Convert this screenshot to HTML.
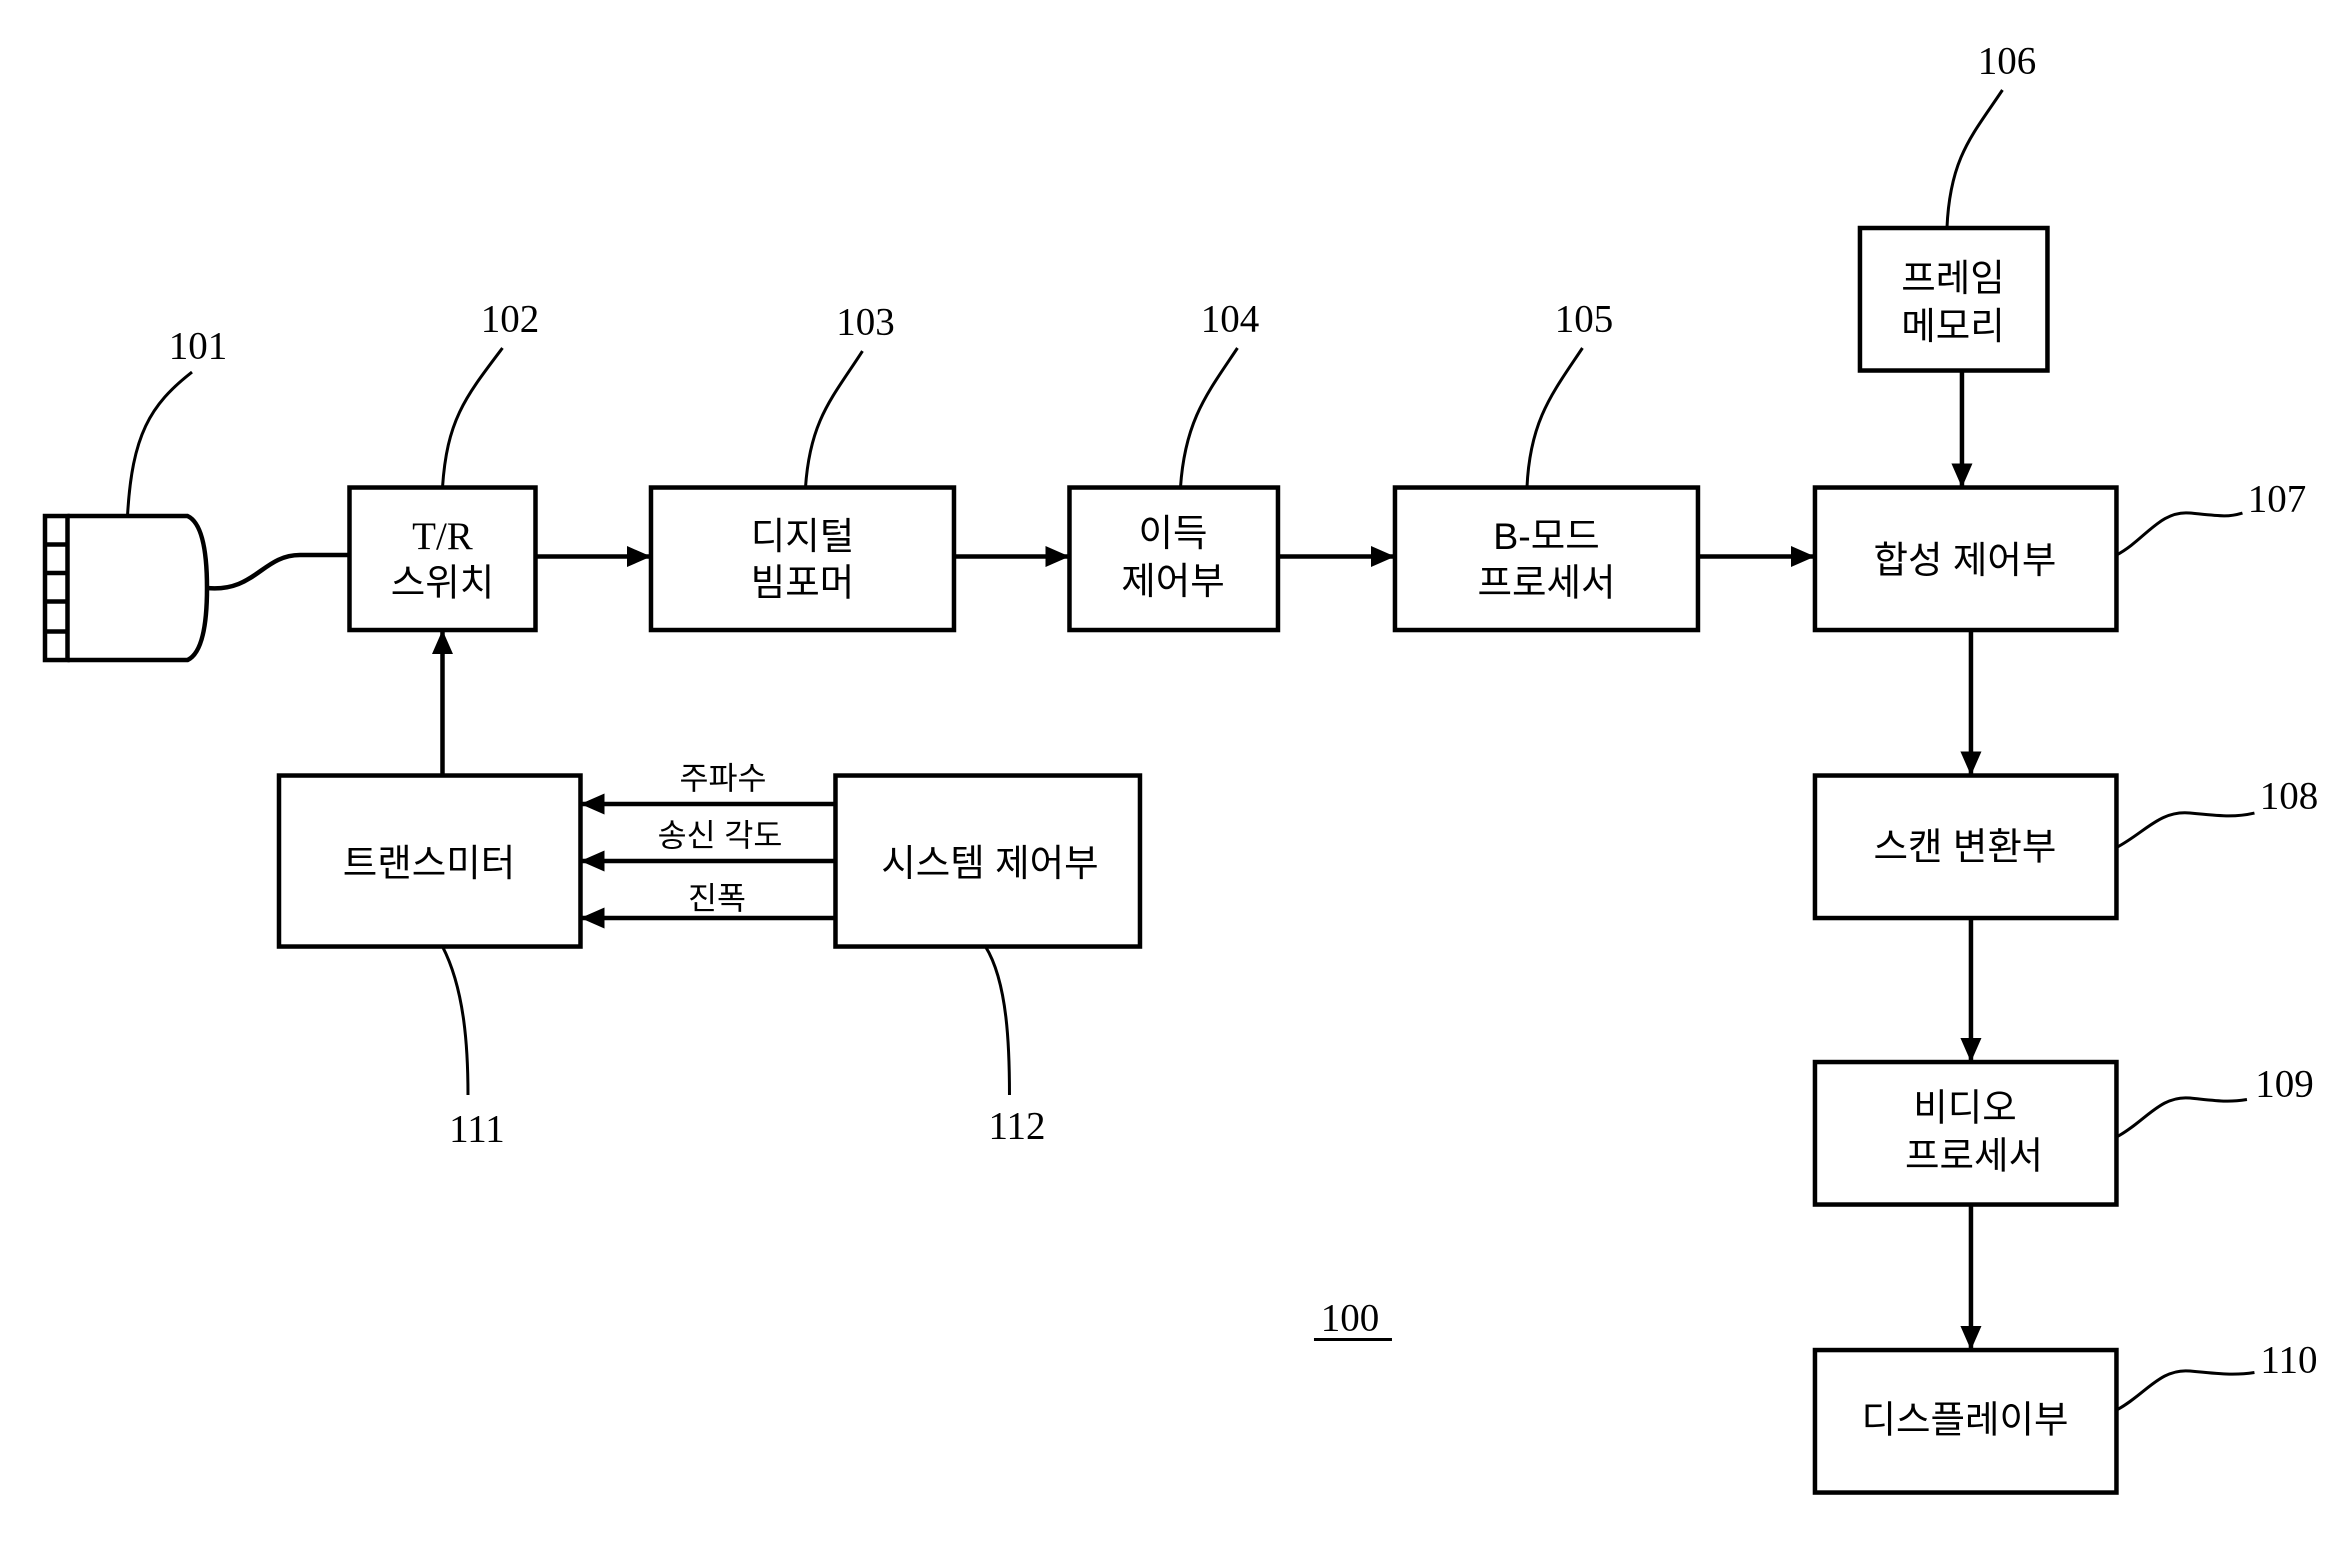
<!DOCTYPE html>
<html><head><meta charset="utf-8"><style>html,body{margin:0;padding:0;background:#fff}svg{display:block}</style></head>
<body>
<svg width="2344" height="1544" viewBox="0 0 1562.7 1029.3" preserveAspectRatio="none" xmlns="http://www.w3.org/2000/svg">
<defs><marker id="a" markerWidth="16" markerHeight="14" refX="15" refY="7" orient="auto" markerUnits="userSpaceOnUse" viewBox="0 0 16 14"><path d="M0,0 L16,7 L0,14 z" fill="#000"/></marker></defs>
<g fill="none" stroke="#000" stroke-width="3">
<rect x="30" y="344" width="15" height="96"/>
<path d="M30,363H45M30,382H45M30,401H45M30,421H45"/>
<path d="M45,344H125Q138,350 138,392Q138,434 125,440H45"/>
<path d="M138,392C170,395 175,370 200,370H233"/>
<rect x="233" y="325" width="124" height="95"/>
<rect x="434" y="325" width="202" height="95"/>
<rect x="713" y="325" width="139" height="95"/>
<rect x="930" y="325" width="202" height="95"/>
<rect x="1210" y="325" width="201" height="95"/>
<rect x="1240" y="152" width="125" height="95"/>
<rect x="1210" y="517" width="201" height="95"/>
<rect x="1210" y="708" width="201" height="95"/>
<rect x="1210" y="900" width="201" height="95"/>
<rect x="186" y="517" width="201" height="114"/>
<rect x="557" y="517" width="203" height="114"/>
</g>
<g stroke="#000" stroke-width="3" fill="none" marker-end="url(#a)">
<path d="M357,371H433"/><path d="M636,371H712"/><path d="M852,371H929"/><path d="M1132,371H1209"/>
<path d="M1308,247V324"/><path d="M1314,420V516"/><path d="M1314,612V707"/><path d="M1314,803V899"/>
<path d="M295,517V421"/>
<path d="M557,536H388"/><path d="M557,574H388"/><path d="M557,612H388"/>
</g>
<g stroke="#000" stroke-width="2" fill="none">
<path d="M85,344C88,290 100,270 128,248"/>
<path d="M295,325C298,280 310,265 335,232"/>
<path d="M537,325C540,280 555,265 575,234"/>
<path d="M787,325C790,280 805,262 825,232"/>
<path d="M1018,325C1020,280 1035,262 1055,232"/>
<path d="M1298,152C1300,105 1315,90 1335,60"/>
<path d="M1411,370C1430,360 1440,340 1460,342S1485,345 1495,342"/>
<path d="M1411,565C1430,555 1440,540 1460,542S1490,545 1503,542"/>
<path d="M1411,758C1430,748 1440,730 1460,732S1485,735 1498,733"/>
<path d="M1411,940C1430,930 1440,912 1460,914S1490,917 1503,915"/>
<path d="M295,631C310,660 312,700 312,730"/>
<path d="M657,631C672,655 673,700 673,730"/>
<path d="M876,893H928"/>
</g>
<g font-family="Liberation Serif, Noto Serif CJK SC, serif" font-size="26" text-anchor="middle" fill="#000">
<text x="132" y="239">101</text><text x="340" y="221">102</text><text x="577" y="223">103</text>
<text x="820" y="221">104</text><text x="1056" y="221">105</text><text x="1338" y="49">106</text>
<text x="1518" y="341">107</text><text x="1526" y="539">108</text><text x="1523" y="731">109</text>
<text x="1526" y="915">110</text><text x="318" y="761">111</text><text x="678" y="759">112</text>
<text x="900" y="887">100</text>
<text x="295" y="366">T/R</text>
</g>
<g font-family="Liberation Sans, Noto Sans CJK KR, sans-serif" font-size="25" text-anchor="middle" fill="#000">
<text x="295" y="397">스위치</text>
<text x="535" y="366">디지털</text><text x="535" y="397">빔포머</text>
<text x="782" y="364">이득</text><text x="782" y="396">제어부</text>
<text x="1031" y="366">B-모드</text><text x="1031" y="397">프로세서</text>
<text x="1302" y="194">프레임</text><text x="1302" y="226">메모리</text>
<text x="1310" y="382">합성 제어부</text>
<text x="1310" y="573">스캔 변환부</text>
<text x="1310" y="747">비디오</text><text x="1316" y="779">프로세서</text>
<text x="1310" y="955">디스플레이부</text>
<text x="286" y="584">트랜스미터</text>
<text x="660" y="584">시스템 제어부</text>
<text x="482" y="526" font-size="21">주파수</text>
<text x="480" y="564" font-size="21">송신 각도</text>
<text x="478" y="606" font-size="21">진폭</text>
</g>
</svg>
</body></html>
